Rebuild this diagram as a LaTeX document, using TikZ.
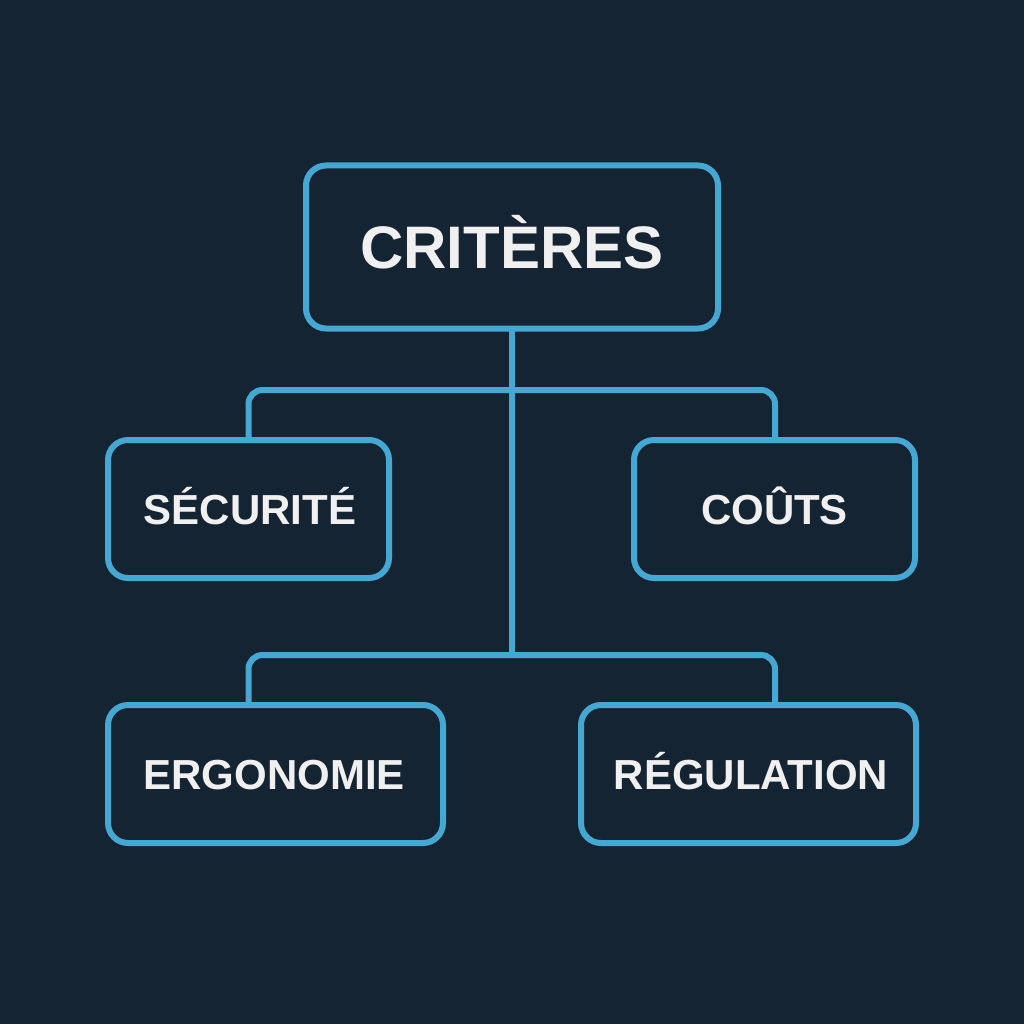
\documentclass[tikz,border=0pt]{standalone}
\usepackage{fontspec}
\setmainfont{Liberation Sans}
\definecolor{bgdark}{HTML}{152433}
\definecolor{lineblue}{HTML}{45A8D2}
\definecolor{textwhite}{HTML}{F0F0F0}
\tikzset{
  critbox/.style={draw=lineblue, line width=6pt, rounded corners=20pt, fill=bgdark, text=textwhite, inner sep=0pt, text depth=0pt, minimum height=138pt},
  critsmall/.style={critbox, text height=30pt, font=\fontsize{42}{42}\selectfont\bfseries},
  critline/.style={draw=lineblue, line width=6pt, rounded corners=14pt},
}
\begin{document}
\begin{tikzpicture}[x=1pt,y=-1pt]
\fill[bgdark] (0,0) rectangle (1024,1024);
\useasboundingbox (0,0) rectangle (1024,1024);
\coordinate (J1) at (512,390);
\coordinate (J2) at (512,655);
\coordinate (T1) at (248.5,445);
\coordinate (T2) at (775,445);
\coordinate (T3) at (248.5,710);
\coordinate (T4) at (775,710);
\draw[critline] (T1) |- (J1) -| (T2);
\draw[critline] (T3) |- (J2) -| (T4);
\draw[critline] (512,330) -- (J2);
\node[critbox, minimum width=412pt, minimum height=163pt, text height=43pt, font=\fontsize{60}{60}\selectfont\bfseries] (N0) at (512,247) {CRITÈRES};
\node[critsmall, minimum width=281pt] (N1) at (248.5,509) {\hspace*{3pt}SÉCURITÉ};
\node[critsmall, minimum width=281pt] (N2) at (774.5,509) {COÛTS};
\node[critsmall, minimum width=335pt] (N3) at (275.5,774) {ERGONOMIE\hspace*{3pt}};
\node[critsmall, minimum width=335pt] (N4) at (748.5,774) {\hspace*{5pt}RÉGULATION};
\end{tikzpicture}
\end{document}
